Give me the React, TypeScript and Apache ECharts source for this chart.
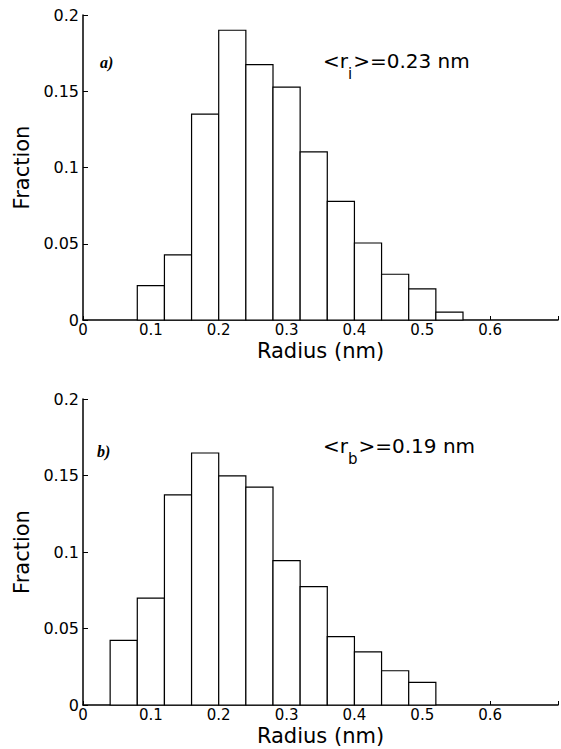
import React, { useEffect, useRef } from "react";
import * as echarts from "echarts";

// ---- Data ----
const BIN_WIDTH = 0.04;
const binStartsA = [0.08, 0.12, 0.16, 0.2, 0.24, 0.28, 0.32, 0.36, 0.4, 0.44, 0.48, 0.52];
const fractionsA = [0.0225, 0.0427, 0.135, 0.19, 0.1675, 0.1527, 0.1103, 0.0778, 0.0505, 0.03, 0.0204, 0.0051];
const binStartsB = [0.04, 0.08, 0.12, 0.16, 0.2, 0.24, 0.28, 0.32, 0.36, 0.4, 0.44, 0.48];
const fractionsB = [0.0423, 0.0698, 0.1374, 0.1647, 0.1498, 0.1424, 0.0944, 0.0774, 0.0447, 0.0347, 0.0224, 0.0148];
const xTickValues = [0, 0.1, 0.2, 0.3, 0.4, 0.5, 0.6];
const yTickValues = [0, 0.05, 0.1, 0.15, 0.2];
const panelLabels = ["a)", "b)"];
const meanLabels = [
  { pre: "<r", sub: "i", post: ">=0.23 nm" },
  { pre: "<r", sub: "b", post: ">=0.19 nm" },
];
const xAxisTitle = "Radius (nm)";
const yAxisTitle = "Fraction";

const FONT = "DejaVu Sans";

function measure(text: string, font: string): number {
  const ctx = document.createElement("canvas").getContext("2d");
  if (!ctx) return text.length * 10;
  ctx.font = font;
  return ctx.measureText(text).width;
}

function makeData(starts: number[], vals: number[]) {
  return starts.map((s, i) => [s, s + BIN_WIDTH, vals[i]]);
}

export default function App() {
  const ref = useRef<HTMLDivElement>(null);

  useEffect(() => {
    if (!ref.current) return;
    const chart = echarts.init(ref.current, null, { renderer: "svg" });

    const grids = [
      { left: 83, top: 15, width: 480, height: 305 },
      { left: 83, top: 399, width: 480, height: 306 },
    ];

    const xAxes = grids.map((_, i) => ({
      type: "value",
      gridIndex: i,
      min: 0,
      max: 0.7,
      interval: 0.1,
      name: xAxisTitle,
      nameLocation: "middle",
      nameGap: 20,
      nameTextStyle: { fontFamily: FONT, fontSize: 21, color: "#000" },
      axisLine: { show: true, lineStyle: { color: "#000", width: 1.5 } },
      axisTick: { show: true, inside: true, length: 4, lineStyle: { color: "#000", width: 1 } },
      splitLine: { show: false },
      axisLabel: {
        fontFamily: FONT,
        fontSize: 15,
        color: "#000",
        margin: 2,
        formatter: (v: number) => {
          const hit = xTickValues.find((t) => Math.abs(t - v) < 1e-9);
          return hit === undefined ? "" : String(hit);
        },
      },
    }));

    const yAxes = grids.map((_, i) => ({
      type: "value",
      gridIndex: i,
      min: 0,
      max: 0.2,
      interval: 0.05,
      name: yAxisTitle,
      nameLocation: "middle",
      nameGap: 43,
      nameTextStyle: { fontFamily: FONT, fontSize: 21, color: "#000" },
      axisLine: { show: true, lineStyle: { color: "#000", width: 1.5 } },
      axisTick: { show: true, inside: true, length: 5, lineStyle: { color: "#000", width: 1 } },
      splitLine: { show: false },
      axisLabel: {
        fontFamily: FONT,
        fontSize: 16,
        color: "#000",
        margin: 4,
        formatter: (v: number) => {
          const hit = yTickValues.find((t) => Math.abs(t - v) < 1e-9);
          return hit === undefined ? "" : String(hit);
        },
      },
    }));

    const renderItem = (params: any, api: any) => {
      const x0 = api.value(0);
      const x1 = api.value(1);
      const h = api.value(2);
      const p0 = api.coord([x0, 0]);
      const p1 = api.coord([x1, h]);
      return {
        type: "rect",
        shape: { x: p0[0], y: p1[1], width: p1[0] - p0[0], height: p0[1] - p1[1] },
        style: { fill: "#fff", stroke: "#000", lineWidth: 1.2 },
      };
    };

    const series = [makeData(binStartsA, fractionsA), makeData(binStartsB, fractionsB)].map((d, i) => ({
      type: "custom",
      xAxisIndex: i,
      yAxisIndex: i,
      data: d,
      encode: { x: [0, 1], y: 2 },
      renderItem,
      z: 2,
    }));

    // annotation texts
    const MAIN_SIZE = 20;
    const SUB_SIZE = 15;
    const mainFont = `${MAIN_SIZE}px "${FONT}"`;
    const graphics: any[] = [];
    const panelPos = [
      { x: 100, y: 62 },
      { x: 97, y: 451 },
    ];
    const meanPos = [
      { x: 323, y: 61, subY: 74 },
      { x: 323, y: 446, subY: 459 },
    ];
    panelLabels.forEach((lbl, i) => {
      graphics.push({
        type: "text",
        x: panelPos[i].x,
        y: panelPos[i].y,
        style: {
          text: lbl,
          fontFamily: "Liberation Serif",
          fontStyle: "italic",
          fontWeight: "bold",
          fontSize: 16,
          fill: "#000",
          verticalAlign: "middle",
          align: "left",
        },
      });
    });
    meanLabels.forEach((m, i) => {
      const p = meanPos[i];
      const wPre = measure(m.pre, mainFont);
      const wSub = measure(m.sub, `${SUB_SIZE}px "${FONT}"`);
      graphics.push({
        type: "text",
        x: p.x,
        y: p.y,
        style: { text: m.pre, fontFamily: FONT, fontSize: MAIN_SIZE, fill: "#000", verticalAlign: "middle", align: "left" },
      });
      graphics.push({
        type: "text",
        x: p.x + wPre,
        y: p.subY,
        style: { text: m.sub, fontFamily: FONT, fontSize: SUB_SIZE, fill: "#000", verticalAlign: "middle", align: "left" },
      });
      graphics.push({
        type: "text",
        x: p.x + wPre + wSub + 1,
        y: p.y,
        style: { text: m.post, fontFamily: FONT, fontSize: MAIN_SIZE, fill: "#000", verticalAlign: "middle", align: "left" },
      });
    });

    chart.setOption({
      animation: false,
      backgroundColor: "#fff",
      grid: grids,
      xAxis: xAxes,
      yAxis: yAxes,
      series,
      graphic: graphics,
    });

    return () => chart.dispose();
  }, []);

  return (
    <div
      ref={ref}
      style={{ position: "absolute", left: 0, top: 0, width: 561, height: 749, background: "#fff" }}
    />
  );
}
